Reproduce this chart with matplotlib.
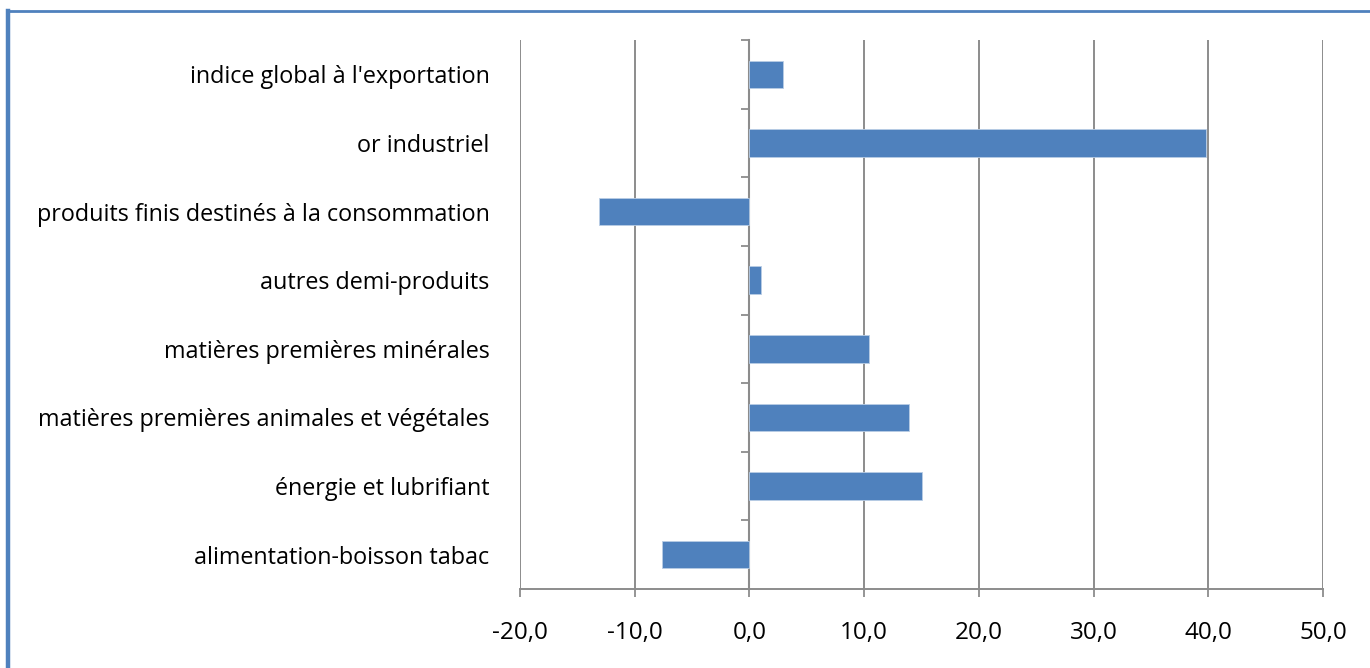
import matplotlib
matplotlib.use("Agg")
import matplotlib.pyplot as plt
from matplotlib.lines import Line2D
import numpy as np

categories = [
    "alimentation-boisson tabac",
    "énergie et lubrifiant",
    "matières premières animales et végétales",
    "matières premières minérales",
    "autres demi-produits",
    "produits finis destinés à la consommation",
    "or industriel",
    "indice global à l'exportation",
]
values = [-7.6, 15.0, 13.9, 10.4, 1.0, -13.1, 39.8, 2.9]
x_ticks = [-20, -10, 0, 10, 20, 30, 40, 50]

BLUE = "#4F81BD"
GRAY = "#8C8C8C"

plt.rcParams["font.family"] = ["Open Sans", "DejaVu Sans"]

fig = plt.figure(figsize=(13.7, 6.68), dpi=100)
ax = fig.add_axes([520 / 1370, 1 - 589 / 668, (1323 - 520) / 1370, (589 - 40) / 668])

y = np.arange(len(categories))
ax.barh(y, values, height=0.4, color=BLUE, edgecolor="#B9CDE5", linewidth=0.6, zorder=3)

ax.set_xlim(x_ticks[0], x_ticks[-1])
ax.set_ylim(-0.5, len(categories) - 0.5)
ax.set_xticks(x_ticks)
ax.set_xticklabels([f"{v:.1f}".replace(".", ",") for v in x_ticks], fontsize=17.5)
ax.set_yticks(y)
ax.set_yticklabels(categories, fontsize=16.8)
ax.tick_params(axis="y", length=0, pad=22)
ax.tick_params(axis="x", length=6, width=1.3, color=GRAY, pad=17, direction="out")

ax.grid(axis="x", color=GRAY, linewidth=1.4, zorder=0)
for s in ["top", "right", "left"]:
    ax.spines[s].set_visible(False)
ax.spines["bottom"].set_color(GRAY)
ax.spines["bottom"].set_linewidth(1.4)

# category axis drawn at zero, with ticks between categories
zero_pos = (0 - x_ticks[0]) / (x_ticks[-1] - x_ticks[0])
sec = ax.secondary_yaxis(zero_pos)
sec.set_yticks(np.arange(len(categories) + 1) - 0.5)
sec.set_yticklabels([])
sec.tick_params(length=6, width=1.3, color=GRAY, direction="out")
sec.spines["left"].set_color(GRAY)
sec.spines["left"].set_linewidth(1.5)

# blue outer frame (left and top edges visible)
fig.add_artist(Line2D([8 / 1370, 8 / 1370], [0, 1 - 11 / 668],
                      transform=fig.transFigure, color=BLUE, linewidth=3.2))
fig.add_artist(Line2D([8 / 1370, 1], [1 - 11 / 668, 1 - 11 / 668],
                      transform=fig.transFigure, color=BLUE, linewidth=2.0))

fig.savefig("out.png", dpi=100, facecolor="white")
